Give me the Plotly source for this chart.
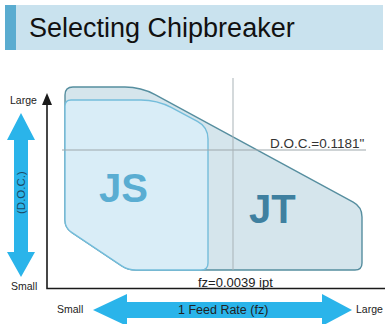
import plotly.graph_objects as go

# diagram outlines (x, y, corner radius) in the 385x324 picture space
jt_x = [65, 141, 362, 362, 128, 65]
jt_y = [87, 87, 207, 270, 270, 228]
jt_r = [8, 16, 10, 7, 8, 8]

js_x = [65, 157, 208, 208, 128, 65]
js_y = [100, 100, 127, 270, 270, 228]
js_r = [6, 16, 12, 7, 8, 8]

doc_arrow_x = [21, 35, 28, 28, 35, 21, 7, 14, 14, 7]
doc_arrow_y = [113, 140, 140, 252, 252, 277, 252, 252, 140, 140]

feed_arrow_x = [93, 127, 127, 322, 322, 352, 322, 322, 127, 127]
feed_arrow_y = [310, 294, 302, 302, 294, 310, 326, 318, 318, 326]

doc_limit = 150      # D.O.C.=0.1181"
fz_limit = 233       # fz=0.0039 ipt

title = "Selecting Chipbreaker"
doc_label = "D.O.C.=0.1181\""
fz_label = "fz=0.0039 ipt"

FONT = "Liberation Sans, Arial, sans-serif"
BLUE = "#2ab4ea"


def rounded_path(xs, ys, rs):
    n = len(xs)
    out = []
    for i in range(n):
        x0, y0 = xs[i - 1], ys[i - 1]
        x1, y1 = xs[i], ys[i]
        x2, y2 = xs[(i + 1) % n], ys[(i + 1) % n]
        r = rs[i]
        d1 = ((x0 - x1) ** 2 + (y0 - y1) ** 2) ** 0.5
        d2 = ((x2 - x1) ** 2 + (y2 - y1) ** 2) ** 0.5
        ax, ay = x1 + (x0 - x1) * r / d1, y1 + (y0 - y1) * r / d1
        bx, by = x1 + (x2 - x1) * r / d2, y1 + (y2 - y1) * r / d2
        out.append(("M" if i == 0 else "L") + f" {ax:.2f},{ay:.2f}")
        out.append(f"Q {x1},{y1} {bx:.2f},{by:.2f}")
    return " ".join(out) + " Z"


fig = go.Figure()

# arrows
fig.add_trace(go.Scatter(x=doc_arrow_x, y=doc_arrow_y, fill="toself", fillcolor=BLUE,
                         mode="lines", line=dict(width=0), hoverinfo="skip"))
fig.add_trace(go.Scatter(x=feed_arrow_x, y=feed_arrow_y, fill="toself", fillcolor=BLUE,
                         mode="lines", line=dict(width=0), hoverinfo="skip"))

# axes
fig.add_trace(go.Scatter(x=[47, 47, 385], y=[100, 288.5, 288.5], mode="lines",
                         line=dict(color="#1a1a1a", width=1.6), hoverinfo="skip"))
fig.add_trace(go.Scatter(x=[42, 47, 52, 42], y=[105, 93, 105, 105], fill="toself",
                         fillcolor="#1a1a1a", mode="lines", line=dict(width=0),
                         hoverinfo="skip"))

shapes = [
    dict(type="rect", x0=5, x1=383, y0=5, y1=50, fillcolor="#c9e2ee", line=dict(width=0)),
    dict(type="rect", x0=5, x1=16, y0=5, y1=50, fillcolor="#5aacd0", line=dict(width=0)),
    dict(type="path", path=rounded_path(jt_x, jt_y, jt_r), fillcolor="#d5e5ec",
         line=dict(color="#568e9f", width=1.4)),
    dict(type="path", path=rounded_path(js_x, js_y, js_r), fillcolor="#d9edf7",
         line=dict(color="#74bddb", width=1.4)),
    dict(type="line", x0=62, x1=366, y0=doc_limit, y1=doc_limit,
         line=dict(color="#9da7ab", width=1)),
    dict(type="line", x0=fz_limit, x1=fz_limit, y0=78, y1=270,
         line=dict(color="#a9b3b7", width=1)),
]
for s in shapes:
    s.update(xref="x", yref="y")

ann = [
    dict(x=27, y=28, text=title, xanchor="left", font=dict(size=27, color="#111")),
    dict(x=123, y=188, text="<b>JS</b>", font=dict(size=40, color="#5aadd2")),
    dict(x=272, y=209, text="<b>JT</b>", font=dict(size=40, color="#3f80a0")),
    dict(x=366, y=143, text=doc_label, xanchor="right", font=dict(size=13.5, color="#333")),
    dict(x=235, y=282, text=fz_label, font=dict(size=13, color="#222")),
    dict(x=23, y=100, text="Large", font=dict(size=10.5, color="#222")),
    dict(x=24, y=286, text="Small", font=dict(size=10.5, color="#222")),
    dict(x=70, y=309, text="Small", font=dict(size=10.5, color="#222")),
    dict(x=385, y=309, text="Large", xanchor="right", font=dict(size=10.5, color="#222")),
    dict(x=223, y=310, text="1 Feed Rate (fz)", font=dict(size=12.5, color="#222")),
    dict(x=21, y=193, text="(D.O.C.)", textangle=-90, font=dict(size=11.5, color="#1b4a66")),
]
for a in ann:
    a.update(xref="x", yref="y", showarrow=False)

fig.update_layout(
    width=385, height=324,
    margin=dict(l=0, r=0, t=0, b=0),
    paper_bgcolor="white", plot_bgcolor="white",
    showlegend=False,
    font=dict(family=FONT),
    shapes=shapes, annotations=ann,
    xaxis=dict(range=[0, 385], visible=False, fixedrange=True),
    yaxis=dict(range=[324, 0], visible=False, fixedrange=True),
)

fig.write_html("out.html", config={"displayModeBar": False},
               post_script="document.body.style.margin='0px';")
